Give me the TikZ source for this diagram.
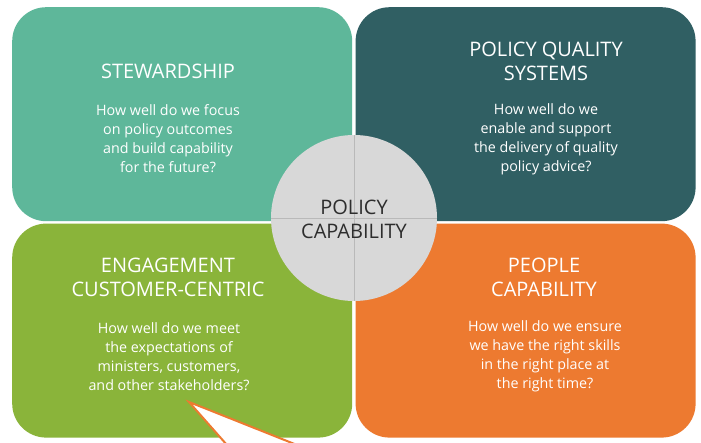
\documentclass[tikz,border=0pt]{standalone}
\usepackage{fontspec}
\setmainfont{Open Sans}
\usetikzlibrary{positioning}
\definecolor{stewardgreen}{RGB}{94,183,154}
\definecolor{qualityteal}{RGB}{48,95,99}
\definecolor{engagegreen}{RGB}{138,180,58}
\definecolor{peopleorange}{RGB}{237,122,48}
\definecolor{hubgray}{RGB}{216,216,216}
\definecolor{hubtext}{RGB}{45,45,45}
\tikzstyle{quadrant}=[rectangle, rounded corners=34pt, minimum width=340pt, minimum height=214pt, inner sep=0pt]
\tikzstyle{heading}=[text=white, font=\fontsize{20}{24}\selectfont, align=center]
\tikzstyle{question}=[text=white, font=\fontsize{14.3}{19}\selectfont, align=center]
\tikzstyle{hub}=[circle, fill=hubgray, minimum size=166pt, inner sep=0pt]
\tikzstyle{callout}=[draw=peopleorange, fill=white, line width=2pt, line join=miter]

\begin{document}
\begin{tikzpicture}[x=1pt, y=-1pt]
    \useasboundingbox[fill=white] (0,0) rectangle (701,443);
    % four quadrants
    \node [quadrant, fill=stewardgreen, anchor=north west] (stewardship) at (12,7) {};
    \node [quadrant, fill=qualityteal, right=3pt of stewardship] (quality) {};
    \node [quadrant, fill=engagegreen, below=2pt of stewardship] (engagement) {};
    \node [quadrant, fill=peopleorange, right=3pt of engagement] (people) {};

    \node [heading] (stewardship title) at (168,71) {STEWARDSHIP};
    \node [question] (stewardship text) at (168,139) {How well do we focus\\on policy outcomes\\and build capability\\for the future?};

    \node [heading] (quality title) at (546,61) {POLICY QUALITY\\SYSTEMS};
    \node [question] (quality text) at (546,139.5) {How well do we\\enable and support\\the delivery of quality\\policy advice?};

    \node [heading] (engagement title) at (168,277) {ENGAGEMENT\\CUSTOMER-CENTRIC};
    \node [question] (engagement text) at (169,356.5) {How well do we meet\\the expectations of\\ministers, customers,\\and other stakeholders?};

    \node [heading] (people title) at (544,277) {PEOPLE\\CAPABILITY};
    \node [question] (people text) at (545,356.5) {How well do we ensure\\we have the right skills\\in the right place at\\the right time?};

    % centre disc
    \node [hub] (capability) at (354,218) {};
    \draw [gray!55, thin] (capability.north) -- (capability.south);
    \draw [gray!55, thin] (capability.west) -- (capability.east);
    \node [text=hubtext, font=\fontsize{20}{24}\selectfont, align=center] (capability title) at (354,219) {POLICY\\CAPABILITY};

    % callout pointer
    \coordinate (tip) at (189,402);
    \coordinate (leftfoot) at (227,445);
    \coordinate (rightfoot) at (297,445);
    \draw [callout] (leftfoot) -- (tip) -- (rightfoot);
\end{tikzpicture}
\end{document}
